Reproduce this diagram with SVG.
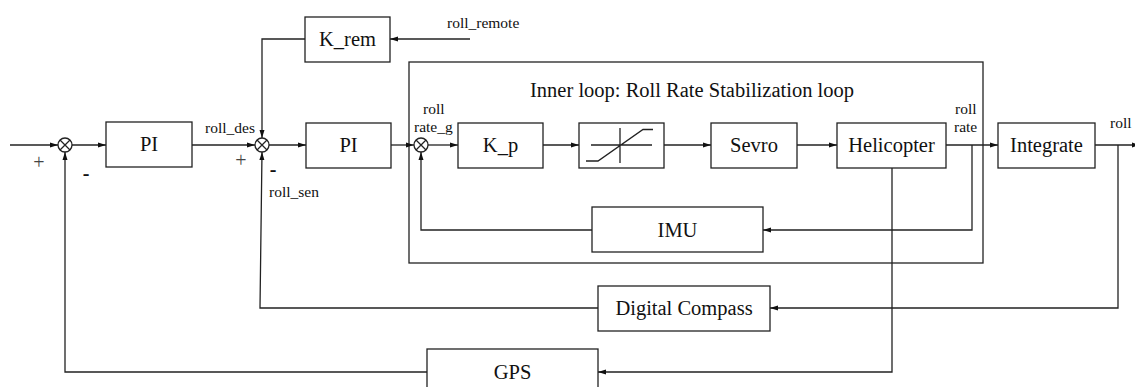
<svg xmlns="http://www.w3.org/2000/svg" width="1135" height="387" viewBox="0 0 1135 387">
<style>
.box{fill:#fff;stroke:#222;stroke-width:1.3}
.ln{fill:none;stroke:#222;stroke-width:1.3}
.lbl{font-family:"Liberation Serif","Times New Roman",serif;font-size:20.5px;fill:#111;text-anchor:middle}
.sm{font-family:"Liberation Serif","Times New Roman",serif;font-size:15.5px;fill:#111}
.sign{font-family:"Liberation Serif","Times New Roman",serif;font-size:20px;fill:#444;text-anchor:middle}
.minus{font-family:"Liberation Serif","Times New Roman",serif;font-size:20px;font-weight:bold;fill:#111;text-anchor:middle}
</style>
<defs>
<marker id="arr" markerUnits="userSpaceOnUse" markerWidth="9" markerHeight="6" refX="8" refY="3" orient="auto">
<path d="M0,0.5 L8,3 L0,5.5 z" fill="#111"/>
</marker>
</defs>
<rect width="1135" height="387" fill="#fff"/>

<g id="inner-loop">
<rect x="409" y="62" width="574" height="201" fill="none" stroke="#222" stroke-width="1.3"/>
<text class="lbl" x="530" y="97" style="text-anchor:start">Inner loop: Roll Rate Stabilization loop</text>
</g>

<g id="connectors">
<path class="ln" d="M10,145 H58" marker-end="url(#arr)"/>
<path class="ln" d="M72,145 H106" marker-end="url(#arr)"/>
<path class="ln" d="M192,145 H255" marker-end="url(#arr)"/>
<path class="ln" d="M305,39 H262 V138" marker-end="url(#arr)"/>
<path class="ln" d="M470,39 H390" marker-end="url(#arr)"/>
<path class="ln" d="M269,145 H306" marker-end="url(#arr)"/>
<path class="ln" d="M391,145 H414" marker-end="url(#arr)"/>
<path class="ln" d="M428,145 H458" marker-end="url(#arr)"/>
<path class="ln" d="M543,145 H579" marker-end="url(#arr)"/>
<path class="ln" d="M664,145 H711" marker-end="url(#arr)"/>
<path class="ln" d="M797,145 H837" marker-end="url(#arr)"/>
<path class="ln" d="M946,145 H998" marker-end="url(#arr)"/>
<path class="ln" d="M1095,145 H1140" marker-end="url(#arr)"/>
<path class="ln" d="M972,145 V230 H763" marker-end="url(#arr)"/>
<path class="ln" d="M592,230 H421 V152" marker-end="url(#arr)"/>
<path class="ln" d="M1118,145 V308 H770" marker-end="url(#arr)"/>
<path class="ln" d="M598,308 H260 L262,152" marker-end="url(#arr)"/>
<path class="ln" d="M892,168 V372 H598" marker-end="url(#arr)"/>
<path class="ln" d="M427,372 H65 V152" marker-end="url(#arr)"/>
</g>

<g id="sum1">
<circle cx="65" cy="145" r="7" fill="#fff" stroke="#222" stroke-width="1.3"/>
<path class="ln" d="M60,140 L70,150 M70,140 L60,150"/>
<text class="sign" x="39" y="169">+</text>
<text class="minus" x="86" y="180">-</text>
</g>
<g id="sum2">
<circle cx="262" cy="145" r="7" fill="#fff" stroke="#222" stroke-width="1.3"/>
<path class="ln" d="M257,140 L267,150 M267,140 L257,150"/>
<text class="sign" x="241" y="167">+</text>
<text class="minus" x="273" y="176">-</text>
</g>
<g id="sum3">
<circle cx="421" cy="145" r="7" fill="#fff" stroke="#222" stroke-width="1.3"/>
<path class="ln" d="M416,140 L426,150 M426,140 L416,150"/>
</g>

<g id="pi1"><rect class="box" x="106" y="122" width="86" height="45"/><text class="lbl" x="149" y="151">PI</text></g>
<g id="krem"><rect class="box" x="305" y="17" width="85" height="45"/><text class="lbl" x="347.5" y="46">K_rem</text></g>
<g id="pi2"><rect class="box" x="306" y="123" width="85" height="45"/><text class="lbl" x="348.5" y="152">PI</text></g>
<g id="kp"><rect class="box" x="458" y="123" width="85" height="45"/><text class="lbl" x="500.5" y="152">K_p</text></g>
<g id="sat"><rect class="box" x="579" y="123" width="85" height="45"/>
<path class="ln" d="M591,145 H652 M620,128 V163 M586,161 H598 L643,129.5 H653"/></g>
<g id="sevro"><rect class="box" x="711" y="123" width="86" height="45"/><text class="lbl" x="754" y="152">Sevro</text></g>
<g id="helicopter"><rect class="box" x="837" y="123" width="109" height="45"/><text class="lbl" x="891.5" y="152">Helicopter</text></g>
<g id="integrate"><rect class="box" x="998" y="123" width="97" height="45"/><text class="lbl" x="1046.5" y="152">Integrate</text></g>
<g id="imu"><rect class="box" x="592" y="207" width="171" height="45"/><text class="lbl" x="677.5" y="237">IMU</text></g>
<g id="compass"><rect class="box" x="598" y="286" width="172" height="45"/><text class="lbl" x="684" y="315">Digital Compass</text></g>
<g id="gps"><rect class="box" x="427" y="349" width="171" height="46"/><text class="lbl" x="512.5" y="379">GPS</text></g>

<g id="labels">
<text class="sm" x="423" y="114">roll</text>
<text class="sm" x="414" y="132">rate_g</text>
<text class="sm" x="955" y="114">roll</text>
<text class="sm" x="954" y="132">rate</text>
<text class="sm" x="205" y="133">roll_des</text>
<text class="sm" x="447" y="28">roll_remote</text>
<text class="sm" x="269" y="197">roll_sen</text>
<text class="sm" x="1110" y="128">roll</text>
</g>
</svg>
